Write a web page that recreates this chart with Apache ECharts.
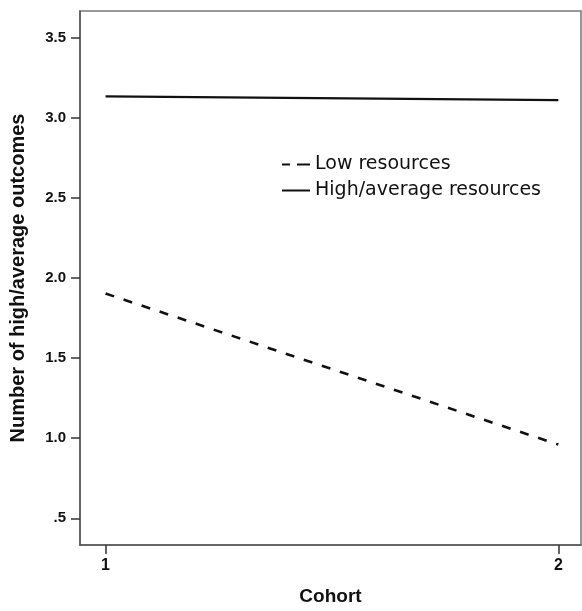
<!DOCTYPE html>
<html>
<head>
<meta charset="utf-8">
<script src="https://cdn.jsdelivr.net/npm/echarts@6/dist/echarts.min.js"></script>
<style>html,body{margin:0;padding:0;background:#fff}#c{width:582px;height:611px}</style>
</head>
<body>
<div id="c"></div>
<script>
var cohorts = [1, 2];
var lowResources = [1.903, 0.96];
var highAverageResources = [3.134, 3.11];
var yTicks = [0.5, 1.0, 1.5, 2.0, 2.5, 3.0, 3.5];
var xTicks = [1, 2];

var chart = echarts.init(document.getElementById('c'), null, {renderer: 'canvas'});
var font = 'Liberation Sans, Arial, sans-serif';
function pairs(vals) { return cohorts.map(function (c, i) { return [c, vals[i]]; }); }
chart.setOption({
  animation: false,
  backgroundColor: '#fff',
  grid: {left: 80, top: 11, right: 1, bottom: 61, show: true, borderColor: '#777', borderWidth: 1.5, containLabel: false},
  legend: {
    orient: 'vertical', left: 277, top: 150, itemWidth: 28, itemHeight: 14, itemGap: 7,
    textStyle: {fontFamily: 'DejaVu Sans, sans-serif', fontSize: 19, color: '#111'},
    data: [
      {name: 'Low resources', icon: 'path://M0,0h8v2h-8z M15,0h13v2h-13z'},
      {name: 'High/average resources', icon: 'path://M0,0h28v2h-28z'}
    ]
  },
  xAxis: {
    type: 'value', min: 0.9436, max: 2.05,
    name: 'Cohort', nameLocation: 'middle', nameGap: 42,
    nameTextStyle: {fontFamily: font, fontSize: 19, fontWeight: 'bold', color: '#111'},
    axisLine: {show: true, lineStyle: {color: '#555', width: 1.5}},
    axisTick: {show: true, length: 9, customValues: xTicks, lineStyle: {color: '#333', width: 1.5}},
    axisLabel: {customValues: xTicks, fontFamily: font, fontSize: 16, fontWeight: 'bold', color: '#111', margin: 13},
    splitLine: {show: false}
  },
  yAxis: {
    type: 'value', min: 0.3333, max: 3.6667,
    name: 'Number of high/average outcomes', nameLocation: 'middle', nameGap: 52,
    nameTextStyle: {fontFamily: font, fontSize: 20, fontWeight: 'bold', color: '#111'},
    axisLine: {show: true, lineStyle: {color: '#555', width: 1.5}},
    axisTick: {show: true, length: 9, customValues: yTicks, lineStyle: {color: '#333', width: 1.5}},
    axisLabel: {customValues: yTicks, fontFamily: font, fontSize: 15, fontWeight: 'bold', color: '#111', margin: 14,
      formatter: function (v) { return v === 0.5 ? '.5' : v.toFixed(1); }},
    splitLine: {show: false}
  },
  series: [
    {name: 'Low resources', type: 'line', data: pairs(lowResources), symbol: 'none',
      lineStyle: {color: '#111', width: 2.6, type: [9, 10]}, itemStyle: {color: '#111'}},
    {name: 'High/average resources', type: 'line', data: pairs(highAverageResources), symbol: 'none',
      lineStyle: {color: '#111', width: 2.2}, itemStyle: {color: '#111'}}
  ]
});
</script>
</body>
</html>
